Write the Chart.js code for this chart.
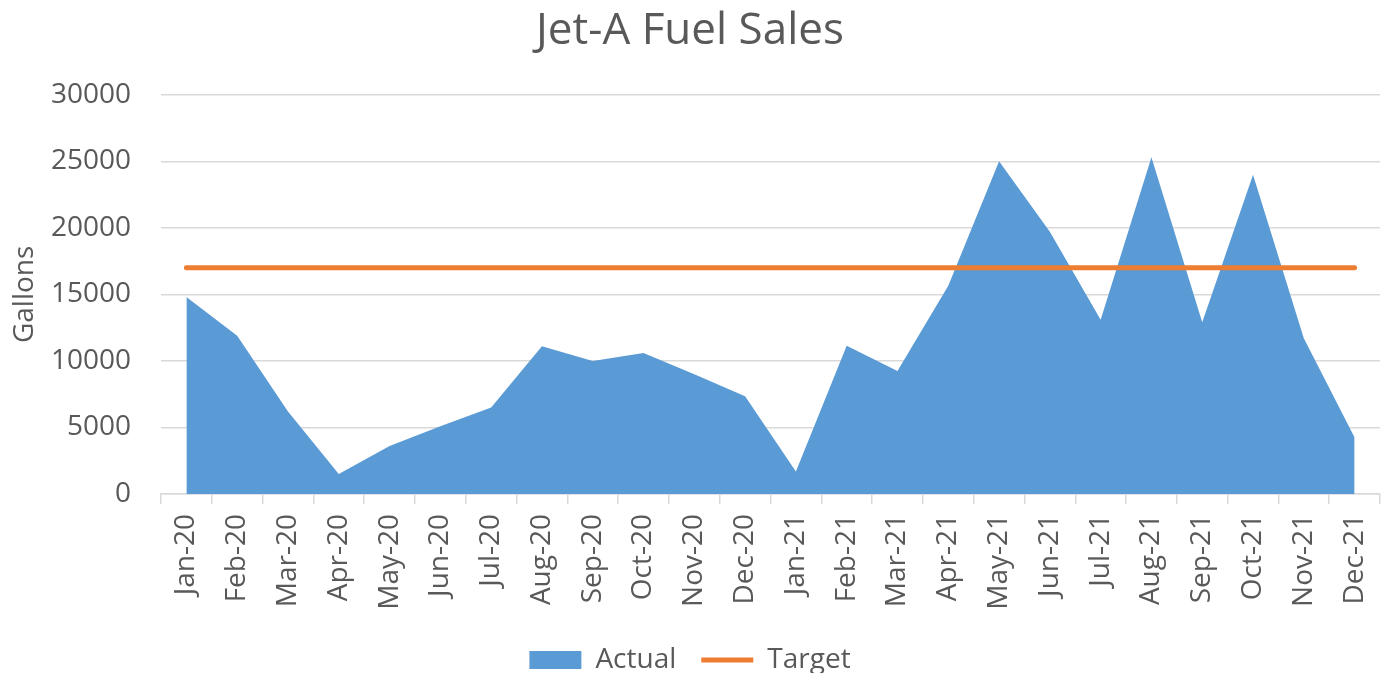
<!DOCTYPE html>
<html>
<head>
<meta charset="utf-8">
<script src="https://cdn.jsdelivr.net/npm/chart.js@4"></script>
<style>
html,body{margin:0;padding:0;background:#fff;}
#wrap{width:1389px;height:673px;}
</style>
</head>
<body>
<div id="wrap"><canvas id="c" width="1389" height="673"></canvas></div>
<script>
const categories = ["Jan-20","Feb-20","Mar-20","Apr-20","May-20","Jun-20","Jul-20","Aug-20","Sep-20","Oct-20","Nov-20","Dec-20",
                    "Jan-21","Feb-21","Mar-21","Apr-21","May-21","Jun-21","Jul-21","Aug-21","Sep-21","Oct-21","Nov-21","Dec-21"];
const actual = [14800,11900,6200,1500,3600,5100,6500,11100,10000,10600,9000,7350,
                1700,11150,9250,15650,25000,19700,13100,25300,12900,24000,11700,4250];
const target = [17000,17000,17000,17000,17000,17000,17000,17000,17000,17000,17000,17000,
                17000,17000,17000,17000,17000,17000,17000,17000,17000,17000,17000,17000];
const yTicks = [0,5000,10000,15000,20000,25000,30000];

const FONT = "'Open Sans', 'Liberation Sans', sans-serif";
const TXT = '#595959';
const GRID = '#d9d9d9';

new Chart(document.getElementById('c'), {
  type: 'line',
  data: {
    labels: categories,
    datasets: [
      {
        label: 'Actual',
        data: actual,
        fill: 'origin',
        backgroundColor: '#5B9BD5',
        borderColor: '#5B9BD5',
        borderWidth: 0,
        pointRadius: 0,
        pointStyle: 'rect',
        tension: 0,
        order: 2
      },
      {
        label: 'Target',
        data: target,
        fill: false,
        borderColor: '#ED7D31',
        backgroundColor: '#ED7D31',
        borderWidth: 5,
        borderCapStyle: 'round',
        pointRadius: 0,
        pointStyle: 'line',
        tension: 0,
        order: 1
      }
    ]
  },
  options: {
    responsive: false,
    animation: false,
    layout: { padding: { left: 0, right: 9, top: 0, bottom: -11 } },
    plugins: {
      title: {
        display: true,
        text: 'Jet-A Fuel Sales',
        color: TXT,
        font: { family: FONT, size: 44, weight: 'normal', lineHeight: 1.2 },
        padding: { top: 5, bottom: 37 }
      },
      legend: {
        display: true,
        position: 'bottom',
        labels: {
          color: TXT,
          font: { family: FONT, size: 28, lineHeight: 1.2 },
          usePointStyle: true,
          pointStyleWidth: 52,
          boxHeight: 18,
          padding: 25,
          sort: (a, b) => a.datasetIndex - b.datasetIndex
        }
      },
      tooltip: { enabled: false }
    },
    scales: {
      x: {
        type: 'category',
        offset: true,
        grid: {
          offset: true,
          drawOnChartArea: false,
          drawTicks: true,
          tickLength: 10,
          color: GRID,
          lineWidth: 1.5
        },
        border: { display: true, color: GRID, width: 1.5 },
        ticks: {
          color: TXT,
          font: { family: FONT, size: 28 },
          maxRotation: 90,
          minRotation: 90,
          autoSkip: false,
          padding: 10
        },
        afterFit: (s) => { s.height = 127; s.paddingRight = 0; s.paddingLeft = 0; }
      },
      y: {
        min: 0,
        max: 30000,
        afterBuildTicks: (s) => { s.ticks = yTicks.map(v => ({ value: v })); },
        grid: {
          color: GRID,
          lineWidth: 1.5,
          drawTicks: false
        },
        border: { display: false },
        ticks: {
          color: TXT,
          font: { family: FONT, size: 28 },
          padding: 30,
          callback: (v) => String(v)
        },
        title: {
          display: true,
          text: 'Gallons',
          color: TXT,
          font: { family: FONT, size: 28 },
          padding: { top: 8, bottom: 0 }
        },
        afterFit: (s) => { s.width = 161; }
      }
    }
  }
});
</script>
</body>
</html>
